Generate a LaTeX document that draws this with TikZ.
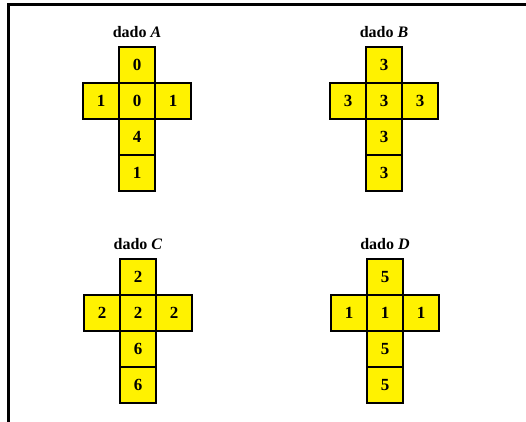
\documentclass[tikz,border=0pt]{standalone}
\usepackage{fontspec}
\setmainfont{Liberation Serif}
\usetikzlibrary{positioning}
\tikzset{
  face/.style={rectangle, draw=black, line width=1.6pt, fill=yellow,
    minimum size=36pt, inner sep=0pt, outer sep=0pt,
    font=\fontsize{17}{17}\selectfont\bfseries},
  dietitle/.style={inner sep=0pt, font=\fontsize{16}{16}\selectfont\bfseries},
  frameline/.style={line width=2.5pt, line cap=rect},
}

\begin{document}
\begin{tikzpicture}[x=1pt, y=-1pt, node distance=0pt]
  \useasboundingbox (0,0) rectangle (526,421);
  \draw[frameline] (8.7,421) -- (8.7,4.7) -- (526,4.7);

  % dado A
  \node[face] (atop) at (137,65) {0};
  \node[face, below=of atop] (amid) {0};
  \node[face, left=of amid] (aleft) {1};
  \node[face, right=of amid] (aright) {1};
  \node[face, below=of amid] (alow) {4};
  \node[face, below=of alow] (abot) {1};
  \node[dietitle, above=10pt of atop.north, anchor=base] (atitle) {dado \textit{A}};

  % dado B
  \node[face] (btop) at (384,65) {3};
  \node[face, below=of btop] (bmid) {3};
  \node[face, left=of bmid] (bleft) {3};
  \node[face, right=of bmid] (bright) {3};
  \node[face, below=of bmid] (blow) {3};
  \node[face, below=of blow] (bbot) {3};
  \node[dietitle, above=10pt of btop.north, anchor=base] (btitle) {dado \textit{B}};

  % dado C
  \node[face] (ctop) at (138,277) {2};
  \node[face, below=of ctop] (cmid) {2};
  \node[face, left=of cmid] (cleft) {2};
  \node[face, right=of cmid] (cright) {2};
  \node[face, below=of cmid] (clow) {6};
  \node[face, below=of clow] (cbot) {6};
  \node[dietitle, above=10pt of ctop.north, anchor=base] (ctitle) {dado \textit{C}};

  % dado D
  \node[face] (dtop) at (385,277) {5};
  \node[face, below=of dtop] (dmid) {1};
  \node[face, left=of dmid] (dleft) {1};
  \node[face, right=of dmid] (dright) {1};
  \node[face, below=of dmid] (dlow) {5};
  \node[face, below=of dlow] (dbot) {5};
  \node[dietitle, above=10pt of dtop.north, anchor=base] (dtitle) {dado \textit{D}};
\end{tikzpicture}
\end{document}
